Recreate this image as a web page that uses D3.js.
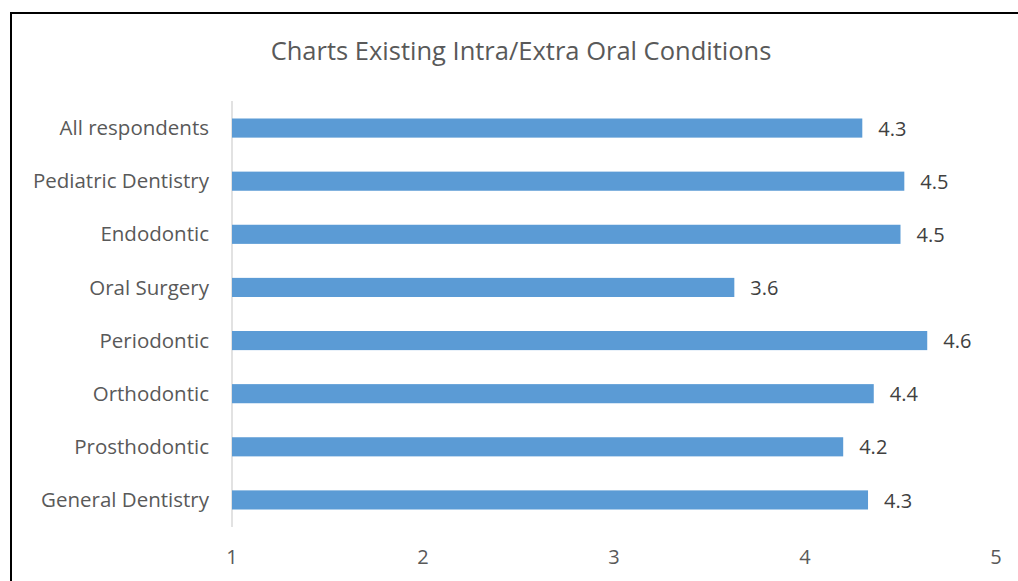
<!DOCTYPE html>
<html><head><meta charset="utf-8">
<script src="https://cdn.jsdelivr.net/npm/d3@7"></script>
<style>body{margin:0;background:#fff;}svg{display:block;}</style>
</head><body><svg id="c" width="1018" height="581"></svg>
<script>
const categories = ["All respondents","Pediatric Dentistry","Endodontic","Oral Surgery","Periodontic","Orthodontic","Prosthodontic","General Dentistry"];
const values = [4.30, 4.52, 4.50, 3.63, 4.64, 4.36, 4.20, 4.33];
const xTicks = [1,2,3,4,5];
const title = "Charts Existing Intra/Extra Oral Conditions";

const svg = d3.select("#c");
const font = "'Open Sans', 'Noto Sans', sans-serif";
svg.append("rect").attr("x",11).attr("y",13).attr("width",1100).attr("height",700)
  .attr("fill","#fff").attr("stroke","#000").attr("stroke-width",2);

const x = d3.scaleLinear().domain([1,5]).range([232,996]);
const y = d3.scaleBand().domain(categories).range([101.5,526.5]).paddingInner(0.64).paddingOuter(0.32);

svg.append("text").attr("x",521).attr("y",60).attr("text-anchor","middle")
  .attr("font-family",font).attr("font-size",25.5).attr("fill","#595959").text(title);

svg.append("line").attr("x1",x(1)).attr("x2",x(1)).attr("y1",101).attr("y2",527)
  .attr("stroke","#d9d9d9").attr("stroke-width",1.5);

svg.selectAll("rect.bar").data(values).join("rect").attr("class","bar")
  .attr("x",x(1)).attr("y",(d,i)=>y(categories[i]))
  .attr("width",d=>x(d)-x(1)).attr("height",y.bandwidth()).attr("fill","#5b9bd5");

svg.selectAll("text.val").data(values).join("text").attr("class","val")
  .attr("x",d=>x(d)+16).attr("y",(d,i)=>y(categories[i])+y.bandwidth()/2)
  .attr("dy","0.38em").attr("font-family",font).attr("font-size",20).attr("fill","#404040")
  .text(d=>d3.format(".1f")(d));

svg.selectAll("text.cat").data(categories).join("text").attr("class","cat")
  .attr("x",209).attr("y",d=>y(d)+y.bandwidth()/2).attr("dy","0.35em")
  .attr("text-anchor","end").attr("font-family",font).attr("font-size",20.5).attr("fill","#595959")
  .text(d=>d);

svg.selectAll("text.tick").data(xTicks).join("text").attr("class","tick")
  .attr("x",d=>x(d)).attr("y",557).attr("dy","0.35em").attr("text-anchor","middle")
  .attr("font-family",font).attr("font-size",20).attr("fill","#595959").text(d=>d);
</script></body></html>
